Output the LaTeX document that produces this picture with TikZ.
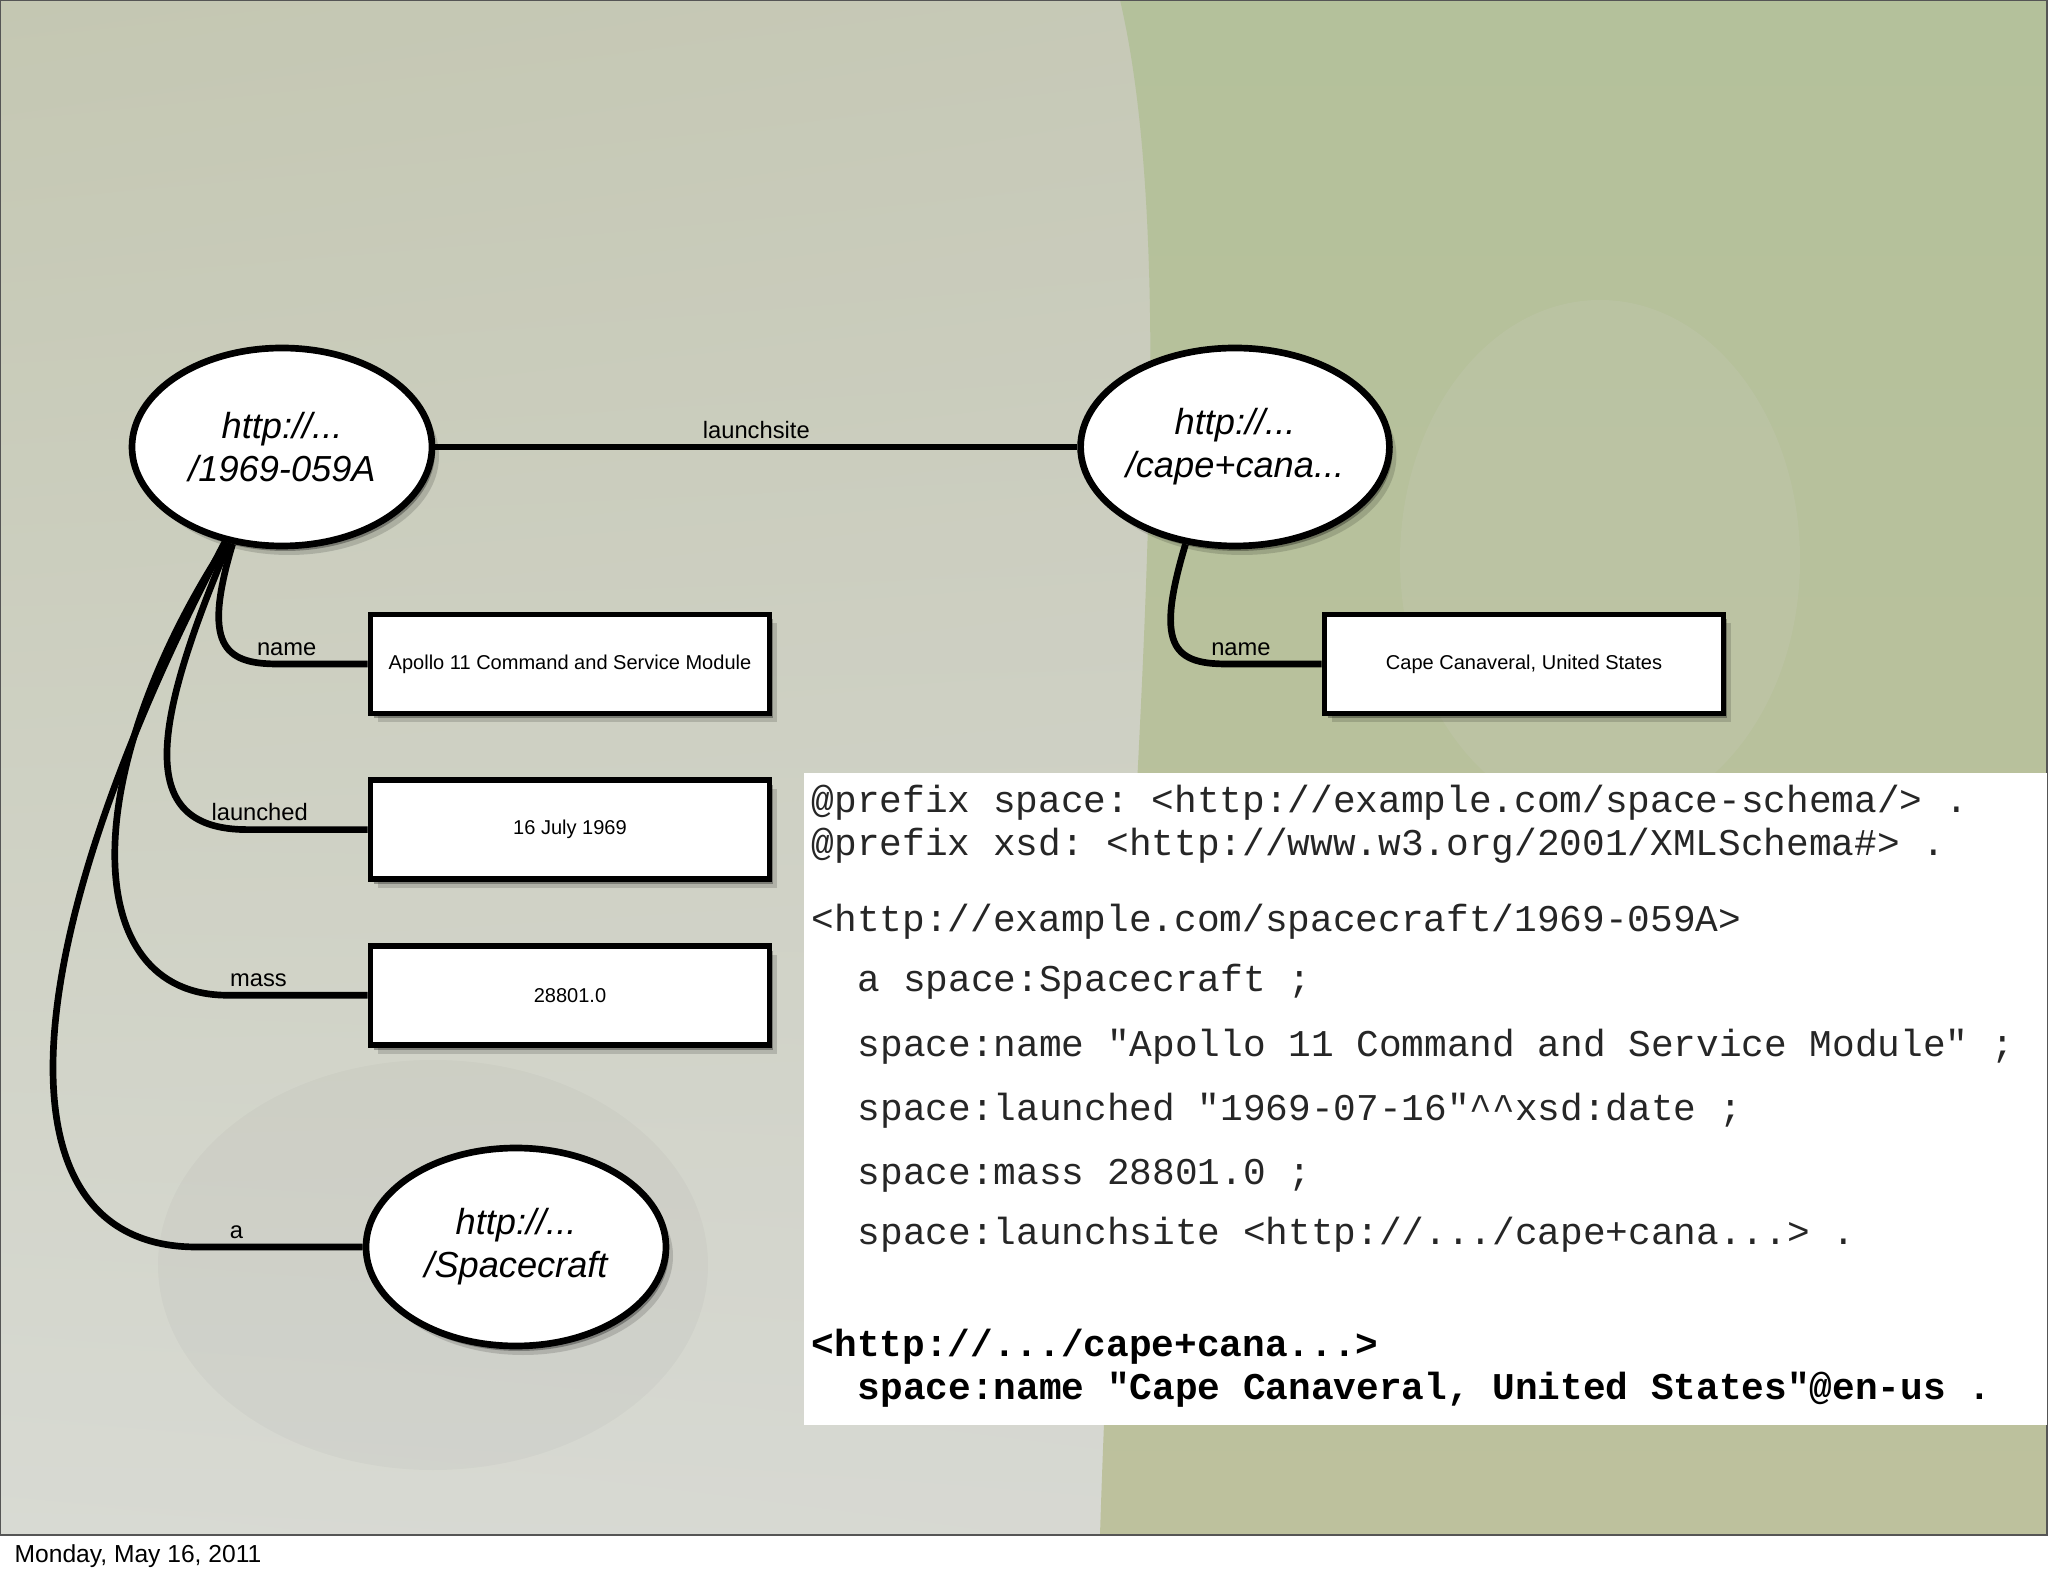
\documentclass[tikz,border=0pt]{standalone}
\usepackage{fontspec}
\setmainfont{Liberation Sans}
\setmonofont{Liberation Mono}
\usetikzlibrary{shapes.geometric, positioning, shadows, shadings}

\definecolor{bgtl}{RGB}{196,199,178}
\definecolor{bgtr}{RGB}{200,202,186}
\definecolor{bgbl}{RGB}{216,218,211}
\definecolor{bgbr}{RGB}{214,215,210}
\definecolor{greentop}{RGB}{180,193,155}
\definecolor{greenmid}{RGB}{192,198,172}
\definecolor{greenbot}{RGB}{189,193,157}
\definecolor{framegray}{RGB}{85,85,85}

\tikzset{
    shadowed/.style={drop shadow={shadow xshift=.3mm, shadow yshift=-.5mm, opacity=.3, fill=black},
                     drop shadow={shadow xshift=.7mm, shadow yshift=-.9mm, opacity=.15, fill=black}},
    uri/.style={ellipse, draw, fill=white, line width=1.9pt, minimum width=30mm, minimum height=19.8mm,
                inner sep=0pt, align=center, font=\fontsize{10.3}{12.2}\selectfont\itshape, shadowed},
    literal/.style={rectangle, draw, fill=white, line width=1.6pt, minimum width=39.9mm, minimum height=9.9mm,
                    font=\fontsize{5.7}{7}\selectfont, shadowed},
    link/.style={line width=1.9pt},
    lbl/.style={font=\fontsize{6.75}{8}\selectfont, inner sep=1.5pt},
    codeline/.style={anchor=base west, inner sep=0pt, text=black!85, font=\fontsize{10.75}{12}\selectfont\ttfamily\frenchspacing},
    codebold/.style={codeline, text=black, font=\fontsize{10.75}{12}\selectfont\ttfamily\bfseries\frenchspacing},
}

\begin{document}
\begin{tikzpicture}[x=0.1mm, y=-0.1mm]

    \useasboundingbox (0,0) rectangle (2048,1576);

    % slide background
    \fill[white] (0,0) rectangle (2048,1576);
    \shade[upper left=bgtl, upper right=bgtr, lower left=bgbl, lower right=bgbr] (0,0) rectangle (2047,1535);
    \shade[top color=greentop, middle color=greenmid, bottom color=greenbot] (1120,0) .. controls (1190,300) and (1120,900) .. (1100,1535)
        -- (2047,1535) -- (2047,0) -- cycle;
    \fill[bgtr, opacity=.25] (1600,560) ellipse [x radius=200, y radius=260];
    \fill[black, opacity=.025] (433,1265) ellipse [x radius=275, y radius=205];
    \draw[framegray, line width=.6pt] (0,0) rectangle (2047,1535);

    % graph
    \node[uri] (craft) at (282,447) {http://...\\/1969-059A};
    \node[uri] (cape) at (1235,447) {http://...\\/cape+cana...};
    \node[uri] (class) at (516,1247) {http://...\\/Spacecraft};

    \node[literal] (name) at (570,664) {Apollo 11 Command and Service Module};
    \node[literal, below=6.1mm of name] (launched) {16 July 1969};
    \node[literal, below=6.1mm of launched] (mass) {28801.0};
    \node[literal] (site) at (1524,664) {Cape Canaveral, United States};

    \draw[link] (craft) -- node[lbl, above] {launchsite} (cape);
    \draw[link] (craft.243) .. controls +(-30,100) and +(-55,0) .. ([xshift=-9mm]name.west)
        -- node[lbl, above, pos=.1] {name} (name.west);
    \draw[link] (craft.241) .. controls +(-80,190) and +(-110,0) .. ([xshift=-12mm]launched.west)
        -- node[lbl, above, pos=.1] {launched} (launched.west);
    \draw[link] (craft.240) .. controls +(-150,230) and +(-150,0) .. ([xshift=-14mm]mass.west)
        -- node[lbl, above, pos=.22] {mass} (mass.west);
    \draw[link] (craft.239) .. controls +(-220,420) and +(-200,0) .. ([xshift=-16.6mm]class.west)
        -- node[lbl, above, pos=.24] {a} (class.west);
    \draw[link] (cape.243) .. controls +(-30,100) and +(-55,0) .. ([xshift=-9.5mm]site.west)
        -- node[lbl, above, pos=.15] {name} (site.west);

    % turtle listing
    \fill[white] (804,773) rectangle (2047,1425);
    \node[codeline] (pfx1) at (811,813) {@prefix space: <http://example.com/space-schema/> .};
    \node[codeline] (pfx2) at (811,856) {@prefix xsd: <http://www.w3.org/2001/XMLSchema\#> .};
    \node[codeline] (subj) at (811,932) {<http://example.com/spacecraft/1969-059A>};
    \node[codeline] (typ) at (857,992) {a space:Spacecraft ;};
    \node[codeline] (nm) at (857,1057) {space:name "Apollo 11 Command and Service Module" ;};
    \node[codeline] (lch) at (857,1121) {space:launched "1969-07-16"\textasciicircum\textasciicircum xsd:date ;};
    \node[codeline] (ms) at (857,1185) {space:mass 28801.0 ;};
    \node[codeline] (ls) at (857,1244) {space:launchsite <http://.../cape+cana...> .};
    \node[codebold] (subj2) at (811,1356) {<http://.../cape+cana...>};
    \node[codebold] (nm2) at (857,1399) {space:name "Cape Canaveral, United States"@en-us .};

    \node[anchor=base west, inner sep=0pt, font=\fontsize{7}{8}\selectfont] (date) at (14,1562) {Monday, May 16, 2011};

\end{tikzpicture}
\end{document}
